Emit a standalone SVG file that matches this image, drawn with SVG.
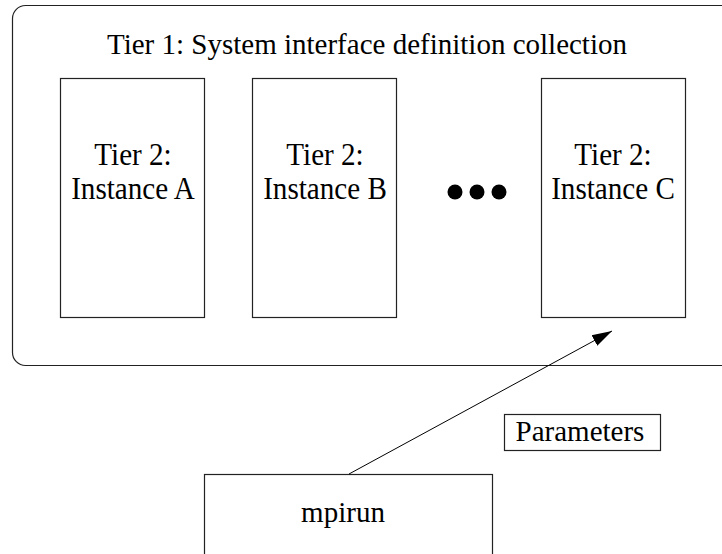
<svg xmlns="http://www.w3.org/2000/svg" width="722" height="554" viewBox="0 0 722 554">
<style>
  .box { fill: #fff; stroke: #222; stroke-width: 1.2; }
  .t { font-family: "Liberation Serif", "Times New Roman", serif; font-size: 29px; fill: #000; text-anchor: middle; }
  .tl { font-family: "Liberation Serif", "Times New Roman", serif; font-size: 32px; fill: #000; text-anchor: middle; }
  .conn { stroke: #000; stroke-width: 1; fill: none; }
</style>
<defs>
  <marker id="arrow" markerWidth="22" markerHeight="14" refX="20" refY="7" orient="auto" markerUnits="userSpaceOnUse">
    <path d="M0,1 L20,7 L0,13 Z" fill="#000"/>
  </marker>
</defs>
<g id="tier1">
  <rect class="box" x="12.5" y="5.5" width="722" height="360" rx="13" ry="13"/>
  <text class="t" x="367" y="54">Tier 1: System interface definition collection</text>
</g>
<g id="instanceA">
  <rect class="box" x="60.5" y="78.5" width="144" height="239"/>
  <text class="tl" transform="translate(133,165) scale(0.91,1)">Tier 2:</text>
  <text class="tl" transform="translate(133,199) scale(0.91,1)">Instance A</text>
</g>
<g id="instanceB">
  <rect class="box" x="252.5" y="78.5" width="144" height="239"/>
  <text class="tl" transform="translate(325,165) scale(0.91,1)">Tier 2:</text>
  <text class="tl" transform="translate(325,199) scale(0.91,1)">Instance B</text>
</g>
<g id="ellipsis">
  <circle cx="455" cy="192" r="7.5" fill="#000"/>
  <circle cx="477" cy="192" r="7.5" fill="#000"/>
  <circle cx="499" cy="192" r="7.5" fill="#000"/>
</g>
<g id="instanceC">
  <rect class="box" x="541.5" y="78.5" width="144" height="239"/>
  <text class="tl" transform="translate(613,165) scale(0.91,1)">Tier 2:</text>
  <text class="tl" transform="translate(613,199) scale(0.91,1)">Instance C</text>
</g>
<g id="mpirun">
  <rect class="box" x="204.5" y="474.5" width="288" height="100"/>
  <text class="t" x="343" y="522">mpirun</text>
</g>
<g id="connectors">
  <line class="conn" x1="349" y1="474" x2="612" y2="331" marker-end="url(#arrow)"/>
</g>
<g id="parameters">
  <rect class="box" x="504.5" y="414.5" width="156" height="36"/>
  <text class="t" x="580" y="441">Parameters</text>
</g>
</svg>
